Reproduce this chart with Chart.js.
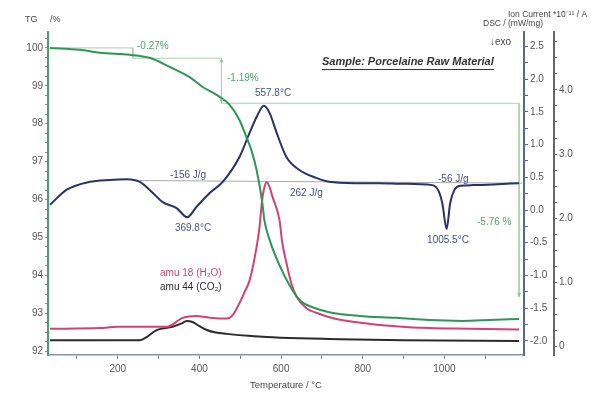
<!DOCTYPE html>
<html>
<head>
<meta charset="utf-8">
<script src="https://cdn.jsdelivr.net/npm/chart.js@4"></script>
<style>
  html, body { margin: 0; padding: 0; background: #fff; }
  #wrap { width: 615px; height: 397px; position: relative; }
</style>
</head>
<body>
<div id="wrap"><canvas id="c" width="615" height="397"></canvas></div>
<script>
// ---- Data ----
const tgTemp   = [34, 107, 156, 229, 278, 327, 376, 408, 442, 474, 498, 515, 527, 540, 554, 559, 572, 596, 620, 645, 682, 718, 792, 882, 963, 1043, 1110, 1183];
const tgValues = [100.0, 99.95, 99.87, 99.82, 99.74, 99.5, 99.23, 98.97, 98.76, 98.5, 98.1, 97.65, 97.31, 96.78, 95.91, 95.46, 94.93, 94.27, 93.75, 93.35, 93.14, 93.03, 92.93, 92.88, 92.82, 92.80, 92.82, 92.85];

const dscTemp   = [34, 75, 131, 180, 222, 254, 286, 310, 344, 369.8, 393, 425, 457, 498, 523, 540, 557.8, 572, 589, 613, 645, 686, 718, 780, 840, 900, 970, 985, 995, 1005.5, 1014, 1024, 1040, 1070, 1120, 1183];
const dscValues = [0.08, 0.31, 0.43, 0.46, 0.47, 0.43, 0.26, 0.12, 0.03, -0.11, 0.05, 0.26, 0.43, 0.81, 1.18, 1.42, 1.59, 1.48, 1.18, 0.81, 0.61, 0.49, 0.43, 0.41, 0.41, 0.40, 0.38, 0.30, 0.10, -0.29, 0.10, 0.30, 0.37, 0.38, 0.39, 0.41];

const h2oTemp   = [34, 156, 198, 278, 320, 359, 393, 418, 450, 467, 481, 498, 511, 523, 540, 547, 553, 559, 565, 572, 579, 596, 603, 613, 625, 638, 662, 686, 730, 799, 880, 963, 1060, 1183];
const h2oValues = [0.27, 0.28, 0.30, 0.30, 0.30, 0.44, 0.47, 0.45, 0.43, 0.43, 0.48, 0.67, 0.85, 1.03, 1.55, 1.85, 2.25, 2.48, 2.56, 2.48, 2.33, 1.97, 1.61, 1.30, 0.98, 0.77, 0.59, 0.52, 0.43, 0.36, 0.31, 0.28, 0.27, 0.26];

const co2Temp   = [34, 254, 271, 295, 334, 355, 369, 383, 400, 418, 440, 467, 520, 564, 645, 718, 900, 1183];
const co2Values = [0.09, 0.09, 0.14, 0.25, 0.30, 0.35, 0.39, 0.375, 0.31, 0.25, 0.21, 0.19, 0.16, 0.14, 0.12, 0.11, 0.09, 0.08];

// TG step evaluation lines (-0.27 %, -1.19 %, -5.76 %)
const stepTemp   = [34, 237, 237, 454, 454, 1183, 1183];
const stepLevels = [100.0, 100.0, 99.73, 99.73, 98.54, 98.54, 93.43];

// DSC integration baseline
const dscBaseTemp   = [254, 1190];
const dscBaseValues = [0.45, 0.41];

// Tick labels
const tempTicks = [200, 400, 600, 800, 1000];
const tgTicks   = [92, 93, 94, 95, 96, 97, 98, 99, 100];
const dscTicks  = [-2.0, -1.5, -1.0, -0.5, 0.0, 0.5, 1.0, 1.5, 2.0, 2.5];
const ionTicks  = [0, 1, 2, 3, 4];
const ionTickLabels = ['0', '1.0', '2.0', '3.0', '4.0'];

const pts = (xs, ys) => xs.map((x, i) => ({ x: x, y: ys[i] }));

// ---- Styling ----
const FONT = '"Liberation Sans", Arial, sans-serif';
const C_TG = '#2f9558';
const C_DSC = '#28316a';
const C_H2O = '#d4426f';
const C_CO2 = '#2b2b2b';
const C_STEP = '#a9cfb4';

function minorTicks(majors, step) {
  const lo = Math.min(...majors), hi = Math.max(...majors);
  const out = [];
  for (let v = lo; v <= hi + 1e-9; v += step) out.push({ value: Math.round(v * 1000) / 1000 });
  return out;
}

const textPlugin = {
  id: 'texts',
  afterDraw(chart) {
    const c = chart.ctx;
    const sx = chart.scales.x, sy = chart.scales.yTG;
    c.save();
    // small arrowheads on the TG step verticals
    function arrow(T, v, dir) {
      const x = sx.getPixelForValue(T), y = sy.getPixelForValue(v);
      c.fillStyle = '#8cbf9c';
      c.beginPath();
      c.moveTo(x, y);
      c.lineTo(x - 2, y - 4 * dir);
      c.lineTo(x + 2, y - 4 * dir);
      c.closePath();
      c.fill();
    }
    arrow(stepTemp[3], stepLevels[3], -1);
    arrow(stepTemp[4], stepLevels[4], 1);
    arrow(stepTemp[6], stepLevels[6], 1);

    c.textBaseline = 'middle';
    function t(s, x, y, color, size, align, weight) {
      c.font = (weight || '') + ' ' + size + 'px ' + FONT;
      c.fillStyle = color;
      c.textAlign = align || 'left';
      c.fillText(s, x, y);
    }
    // axis titles
    t('TG', 25, 20, '#444', 9);
    t('/%', 50, 20, '#444', 9);
    t('Ion Current *10\u207B\u00B9\u00B9 / A', 508, 15, '#444', 8.5);
    t('DSC / (mW/mg)', 483, 24, '#444', 8.5);
    t('\u2193exo', 490, 42, '#444', 10);
    t('Temperature / \u00B0C', 286, 385, '#444', 9.5, 'center');
    // sample title
    c.font = 'italic bold 11px ' + FONT;
    c.fillStyle = '#333';
    c.textAlign = 'left';
    const st = 'Sample: Porcelaine Raw Material';
    const w = c.measureText(st).width;
    c.fillText(st, 322, 62);
    c.strokeStyle = '#333'; c.lineWidth = 1;
    c.beginPath(); c.moveTo(322, 69.5); c.lineTo(322 + w, 69.5); c.stroke();
    // TG annotations
    const G = '#4aa86c';
    t('-0.27%', 137, 46, G, 10);
    t('-1.19%', 227, 78, G, 10);
    t('-5.76 %', 477, 222, G, 10);
    // DSC annotations
    const B = '#46508c';
    t('557.8\u00B0C', 273, 93, B, 10, 'center');
    t('-156 J/g', 170, 175, B, 10);
    t('369.8\u00B0C', 193, 228, B, 10, 'center');
    t('262 J/g', 290, 193, B, 10);
    t('-56 J/g', 438, 179, B, 10);
    t('1005.5\u00B0C', 448, 240, B, 10, 'center');
    // MS legend
    t('amu 18 (H\u2082O)', 160, 273, C_H2O, 10);
    t('amu 44 (CO\u2082)', 160, 287, C_CO2, 10);
    c.restore();
  }
};

const tickFont = { family: FONT, size: 10 };

new Chart(document.getElementById('c'), {
  type: 'scatter',
  data: {
    datasets: [
      { label: 'TG', data: pts(tgTemp, tgValues), yAxisID: 'yTG', borderColor: C_TG, borderWidth: 2, showLine: true, pointRadius: 0, cubicInterpolationMode: 'monotone' },
      { label: 'DSC', data: pts(dscTemp, dscValues), yAxisID: 'yDSC', borderColor: C_DSC, borderWidth: 2, showLine: true, pointRadius: 0, cubicInterpolationMode: 'monotone' },
      { label: 'amu 18', data: pts(h2oTemp, h2oValues), yAxisID: 'yIon', borderColor: C_H2O, borderWidth: 2, showLine: true, pointRadius: 0, cubicInterpolationMode: 'monotone' },
      { label: 'amu 44', data: pts(co2Temp, co2Values), yAxisID: 'yIon', borderColor: C_CO2, borderWidth: 2, showLine: true, pointRadius: 0, cubicInterpolationMode: 'monotone' },
      { label: 'TG steps', data: pts(stepTemp, stepLevels), yAxisID: 'yTG', borderColor: C_STEP, borderWidth: 1, showLine: true, pointRadius: 0, tension: 0 },
      { label: 'DSC base', data: pts(dscBaseTemp, dscBaseValues), yAxisID: 'yDSC', borderColor: '#a8a8ae', borderWidth: 1, showLine: true, pointRadius: 0, tension: 0 }
    ]
  },
  options: {
    responsive: false,
    animation: false,
    layout: { padding: { left: 0, right: 26, top: 32, bottom: 0 } },
    plugins: { legend: { display: false }, tooltip: { enabled: false } },
    scales: {
      x: {
        type: 'linear', position: 'bottom', min: 29, max: 1195,
        afterBuildTicks: s => { s.ticks = minorTicks([100, 1100], 100); },
        afterFit: s => { s.height = 42; },
        ticks: { autoSkip: false, maxRotation: 0, padding: 4, color: '#555', font: tickFont,
                 callback: v => tempTicks.includes(v) ? String(v) : '' },
        grid: { drawOnChartArea: false, drawTicks: true, tickLength: 4, color: '#7d8596' },
        border: { display: true, color: '#8a92a4', width: 1.5 }
      },
      yTG: {
        type: 'linear', position: 'left', min: 91.9, max: 100.42,
        afterBuildTicks: s => { s.ticks = minorTicks([92, 100.25], 0.25); },
        afterFit: s => { s.width = 48; },
        ticks: { autoSkip: false, padding: 2, color: '#555', font: tickFont,
                 callback: v => tgTicks.includes(v) ? String(v) : '' },
        grid: { drawOnChartArea: false, drawTicks: true, tickLength: 3, color: '#5aa878' },
        border: { display: true, color: '#4c9e6a', width: 2 }
      },
      yDSC: {
        type: 'linear', position: 'right', min: -2.214, max: 2.718,
        afterBuildTicks: s => { s.ticks = minorTicks([-2.0, 2.5], 0.25); },
        afterFit: s => { s.width = 30; },
        ticks: { autoSkip: false, padding: 2, color: '#555', font: tickFont,
                 callback: v => dscTicks.includes(v) ? v.toFixed(1) : '' },
        grid: { drawOnChartArea: false, drawTicks: true, tickLength: 4, color: '#5a6aa0' },
        border: { display: true, color: '#5566a0', width: 2 }
      },
      yIon: {
        type: 'linear', position: 'right', min: -0.14, max: 4.906,
        afterBuildTicks: s => { s.ticks = minorTicks([0, 4.75], 0.25); },
        afterFit: s => { s.width = 35; },
        ticks: { autoSkip: false, padding: 2, color: '#555', font: tickFont,
                 callback: v => { const i = ionTicks.indexOf(v); return i >= 0 ? ionTickLabels[i] : ''; } },
        grid: { drawOnChartArea: false, drawTicks: true, tickLength: 3, color: '#666' },
        border: { display: true, color: '#666', width: 2 }
      }
    }
  },
  plugins: [textPlugin]
});
</script>
</body>
</html>
